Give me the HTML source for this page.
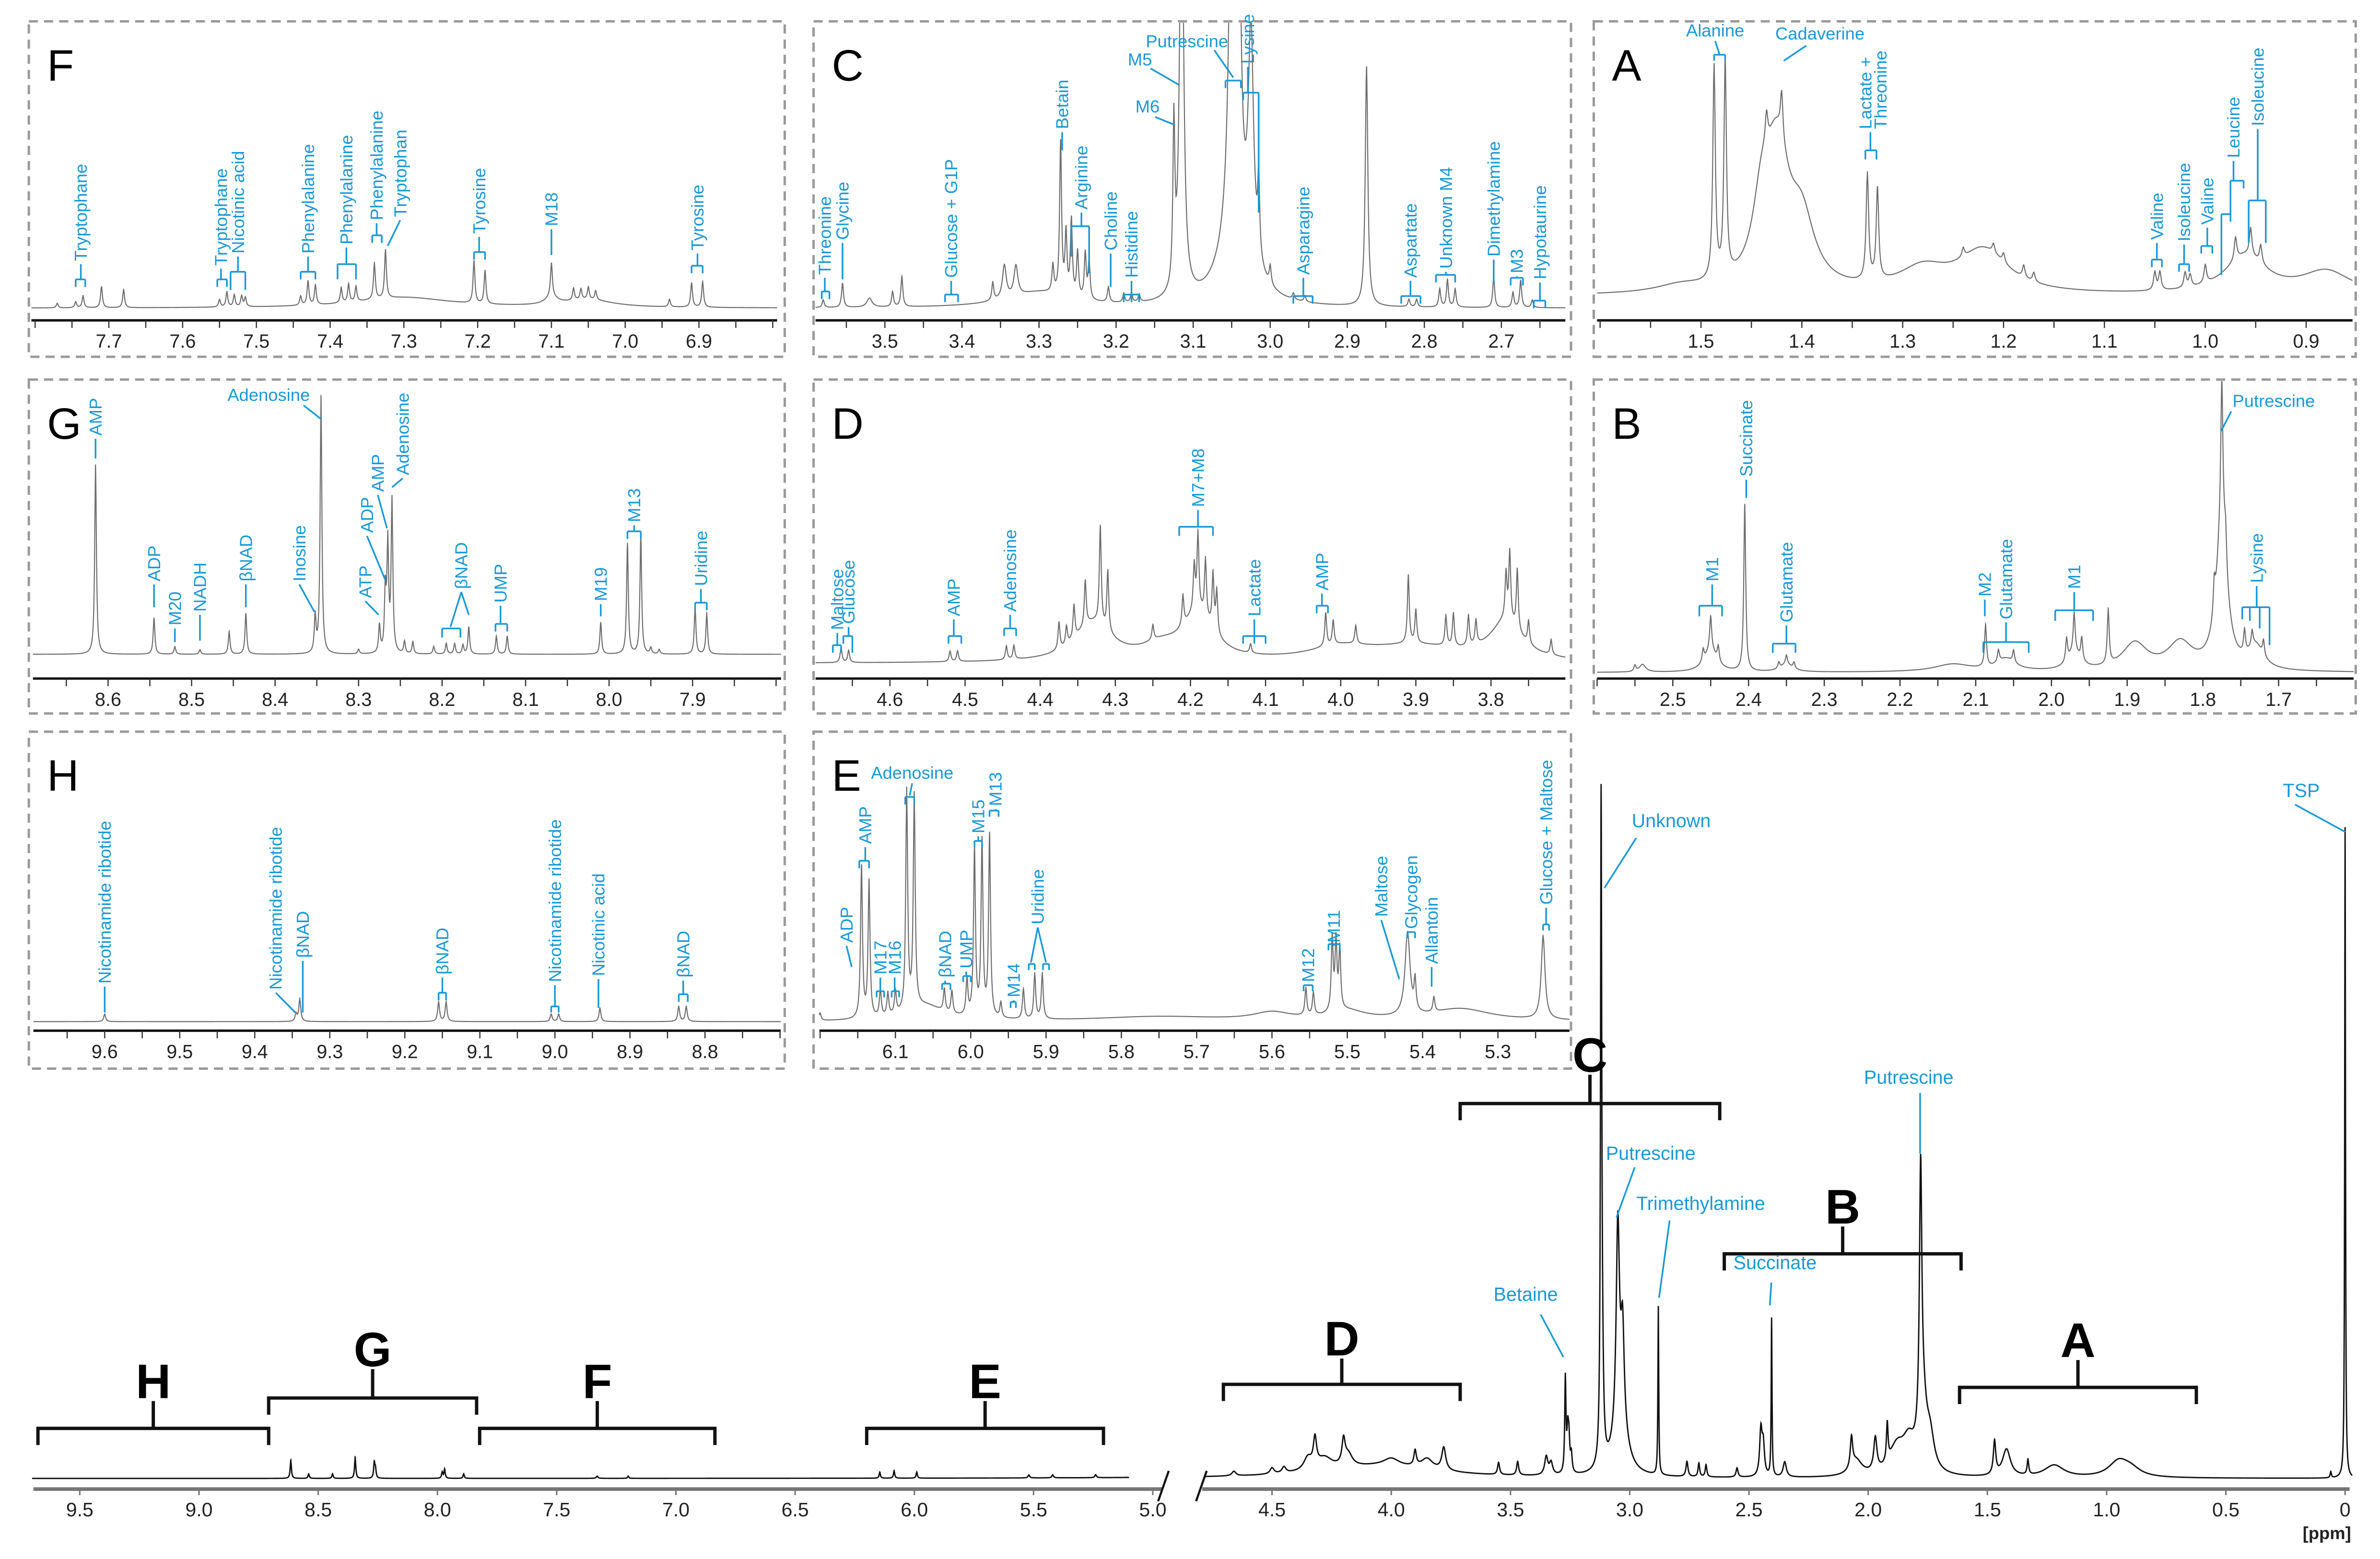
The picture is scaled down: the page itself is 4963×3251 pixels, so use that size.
<!DOCTYPE html>
<html><head><meta charset="utf-8"><title>NMR spectrum with expanded regions</title>
<style>
html,body{margin:0;padding:0;background:#fff;}
svg{display:block;}
text{font-family:"Liberation Sans",Arial,sans-serif;}
</style></head>
<body>
<svg id="fig" xmlns="http://www.w3.org/2000/svg" width="4963" height="3251" viewBox="0 0 1568 1027"></svg>
<script>
// ---------- DATA: peaks [ppm, height(px above baseline), half-width ppm(optional)] ----------
const peaksMain = [
 [0.0,429,0.002],[0.06,4,0.003],
 [3.12,420,0.003],[3.115,50,0.006],
 [3.05,130,0.008],[3.03,60,0.008],[3.04,40,0.03],
 [2.88,111,0.002],
 [3.27,62,0.003],[3.26,25,0.004],[3.255,20,0.004],[3.245,12,0.004],
 [2.405,104,0.002],[2.45,30,0.006],[2.44,20,0.006],[2.35,10,0.008],
 [1.78,170,0.006],[1.77,40,0.02],[1.74,20,0.02],
 [1.92,25,0.004],[1.97,22,0.008],[2.07,20,0.006],[1.88,18,0.04],[1.83,18,0.03],[2.05,10,0.03],
 [1.47,22,0.006],[1.42,18,0.02],[1.33,10,0.004],[1.22,8,0.05],[0.95,10,0.05],[0.9,5,0.05],
 [4.32,18,0.008],[4.2,16,0.008],[4.35,8,0.02],[4.18,8,0.02],[3.9,10,0.006],[3.78,15,0.01],[3.85,7,0.03],[4.0,5,0.04],[4.28,8,0.04],
 [4.05,8,0.3],
 [3.55,8,0.005],[3.47,9,0.005],[3.35,12,0.008],[3.33,8,0.008],
 [2.76,10,0.005],[2.71,9,0.004],[2.68,8,0.004],[2.55,6,0.005],
 [4.5,4,0.01],[4.45,4,0.01],[4.66,3,0.01],
 [8.615,12,0.003],[8.345,14,0.003],[8.265,10,0.003],[8.26,6,0.003],[7.97,6,0.003],[7.98,4,0.003],[8.44,3,0.003],[8.54,3,0.003],[7.89,3,0.003],
 [6.145,4,0.003],[6.085,5,0.003],[5.99,4,0.003],[5.52,2,0.004],[5.42,2,0.004],[5.24,2,0.004],[7.33,1.5,0.004],[7.2,1.5,0.003]
];
const peaksF = [[7.77,3],[7.745,4],[7.735,8],[7.71,14],[7.68,12],[7.55,5],[7.54,10],[7.53,8],[7.52,7],[7.515,6],[7.44,6],[7.43,16],[7.42,13],
 [7.385,10],[7.375,12],[7.365,10],[7.34,24],[7.325,32],[7.205,28],[7.19,22],[7.10,22],[7.07,8],[7.06,7],[7.05,8],[7.04,6],[6.94,5],[6.91,16],[6.895,17],
 [7.3,7,0.08],[7.05,5,0.04],[7.1,5,0.01]];
const peaksG = [[8.615,125],[8.545,24],[8.52,5],[8.49,3],[8.455,15],[8.435,27],[8.352,24],[8.345,170],[8.30,3],[8.275,18],[8.268,40],[8.265,70],[8.26,100],
 [8.245,8],[8.235,8],[8.21,5],[8.195,7],[8.185,7],[8.175,6],[8.168,18],[8.135,12],[8.122,12],[8.01,21],[7.978,73],[7.962,78],[7.897,31],[7.883,27],[7.95,4],[7.94,3]];
const peaksC = [[3.58,5],[3.555,16],[3.52,6,0.004],[3.49,10],[3.478,20],[3.36,12],[3.345,22,0.003],[3.33,20,0.003],[3.282,18],[3.272,100],[3.265,40],
 [3.258,50],[3.25,30],[3.24,30],[3.235,25],[3.21,10],[3.19,6],[3.18,6],[3.17,5],[3.125,105],[3.115,300,0.003],[3.05,250,0.004],[3.04,150,0.003],
 [3.025,150,0.004],[3.015,50],[3.045,60,0.02],[3.0,12],[2.875,158,0.002],[2.78,12],[2.77,18],[2.76,12],[2.71,20],[2.685,10],[2.675,18],[2.66,5],
 [3.3,10,0.05],[2.97,4],[2.955,4],[2.82,5],[2.81,5]];
const peaksA = [[1.425,90,0.015],[1.44,40,0.01],[1.40,40,0.015],[1.22,28,0.03],[1.28,15,0.03],[0.96,25,0.025],[0.88,15,0.03],[1.52,5,0.03],
 [1.487,140],[1.476,140],[1.42,30],[1.435,20],[1.335,70],[1.325,60],[1.05,12],[1.045,12],[1.02,10],[1.015,8],[1.0,12],[0.97,15],[0.955,18],[0.945,12],
 [1.24,6],[1.21,6],[1.2,6],[1.18,8],[1.17,6]];
const peaksD = [[4.33,25,0.03],[4.19,30,0.025],[3.78,25,0.025],[3.9,10,0.08],[4.0,8,0.05],[4.24,8,0.03],
 [4.665,10],[4.655,8],[4.52,7],[4.51,7],[4.445,9],[4.435,9],[4.375,18],[4.365,12],[4.355,22],[4.34,30],[4.32,65],[4.31,40],[4.25,10],
 [4.21,20],[4.195,30],[4.19,50],[4.18,38],[4.17,36],[4.165,28],[4.12,6],[4.02,22],[4.01,16],[3.98,12],[3.91,45],[3.90,22],[3.86,20],[3.85,22],
 [3.83,20],[3.82,16],[3.78,30],[3.775,45],[3.765,40],[3.75,15],[3.72,10]];
const peaksB = [[1.775,100,0.008],[1.89,18,0.02],[1.83,18,0.02],[2.45,15,0.01],[2.06,8,0.015],[1.97,12,0.01],[1.73,15,0.012],[2.13,5,0.03],[2.35,5,0.01],[2.54,5,0.005],
 [2.46,8],[2.45,22],[2.44,10],[2.405,110],[2.36,4],[2.35,6],[2.34,4],[2.087,28],[2.07,8],[2.05,8],[1.98,15],[1.97,25],[1.96,15],[1.925,36],
 [1.785,20],[1.775,90],[1.77,20],[1.745,15],[1.735,10],[1.72,10],[2.55,4]];
const peaksH = [[9.6,5],[9.345,5],[9.34,15],[9.155,13],[9.145,13],[9.005,5],[8.995,5],[8.94,9],[8.835,10],[8.825,10]];
const peaksE = [[6.2,5],[6.145,100],[6.135,90],[6.12,18],[6.11,15],[6.1,15],[6.085,145],[6.075,140],[6.035,15],[6.025,15],[6.005,24],[5.995,110],
 [5.985,115],[5.975,120],[5.96,10],[5.93,20],[5.915,30],[5.905,30],[5.555,18],[5.545,15],[5.52,48],[5.515,45],[5.51,40],[5.42,55,0.004],[5.41,20],
 [5.385,10],[5.24,55,0.003],[5.6,5,0.03],[5.35,8,0.05],[5.75,3,0.1],[5.5,6,0.03],[6.06,10,0.03]];
const mainTickLabels = ['9.5','9.0','8.5','8.0','7.5','7.0','6.5','6.0','5.5','5.0','4.5','4.0','3.5','3.0','2.5','2.0','1.5','1.0','0.5','0'];
const mainTickValues = [9.5,9.0,8.5,8.0,7.5,7.0,6.5,6.0,5.5,5.0,4.5,4.0,3.5,3.0,2.5,2.0,1.5,1.0,0.5,0];

// ---------- annotations (layout) ----------
const annF = [
 {t:'Tryptophane',p:7.738,ty:158,by:170,bp:[7.745,7.732],leg:5},
 {t:'Tryptophane',p:7.548,ty:161,by:170,bp:[7.553,7.54],leg:5},
 {t:'Nicotinic acid',p:7.525,ty:153,by:165,bp:[7.535,7.515],leg:12},
 {t:'Phenylalanine',p:7.43,ty:153,by:165,bp:[7.44,7.42],leg:5},
 {t:'Phenylalanine',p:7.378,ty:147,by:160,bp:[7.39,7.365],leg:10},
 {t:'Phenylalanine',p:7.337,ty:131,by:141,bp:[7.343,7.33],leg:5},
 {t:'Tryptophan',p:7.305,ty:129,d:[7.322,148]},
 {t:'Tyrosine',p:7.198,ty:140,by:152,bp:[7.205,7.19],leg:5},
 {t:'M18',p:7.10,ty:135,by:154},
 {t:'Tyrosine',p:6.902,ty:151,by:161,bp:[6.91,6.895],leg:5}
];
const annG = [
 {t:'AMP',p:8.615,ty:37,by:52},
 {t:'ADP',p:8.545,ty:133,by:150},
 {t:'M20',p:8.52,ty:162,by:173},
 {t:'NADH',p:8.49,ty:153,by:172},
 {t:'βNAD',p:8.435,ty:133,by:150},
 {t:'Inosine',p:8.371,ty:133,d:[8.353,153]},
 {t:'Adenosine',hx:177,hy:14,ls:[200,17],d:[8.345,26]},
 {t:'ATP',p:8.292,ty:144,d:[8.276,155]},
 {t:'ADP',p:8.29,ty:101,d:[8.268,132]},
 {t:'AMP',p:8.277,ty:74,d:[8.266,98]},
 {t:'Adenosine',p:8.247,ty:63,d:[8.26,71]},
 {t:'βNAD',p:8.177,ty:138,ds:[[8.19,163],[8.168,155]],by:164,bp:[8.2,8.178],leg:6,nol:true},
 {t:'UMP',p:8.13,ty:147,by:161,bp:[8.136,8.122],leg:5},
 {t:'M19',p:8.01,ty:146,by:156},
 {t:'M13',p:7.97,ty:94,by:100,bp:[7.978,7.962],leg:5},
 {t:'Uridine',p:7.89,ty:136,by:147,bp:[7.897,7.883],leg:5}
];
const annC = [
 {t:'Threonine',p:3.578,ty:167,by:178,bp:[3.582,3.572],leg:5},
 {t:'Glycine',p:3.555,ty:144,by:170},
 {t:'Glucose + G1P',p:3.414,ty:169,by:180,bp:[3.422,3.405],leg:5},
 {t:'Betain',p:3.27,ty:71,by:85},
 {t:'Arginine',p:3.245,ty:124,by:135,bp:[3.258,3.235],leg:[20,31]},
 {t:'Choline',p:3.207,ty:151,by:175},
 {t:'Histidine',p:3.18,ty:169,by:180,bp:[3.19,3.18,3.17],leg:5},
 {t:'M5',hx:751,hy:29,ls:[758,31],d:[3.118,42]},
 {t:'M6',hx:756,hy:60,ls:[761,63],d:[3.125,68]},
 {t:'Putrescine',hx:782,hy:17,ls:[800,19],d:[3.048,37]},
 {t:'',p:3.048,nol:true,by:39,bp:[3.058,3.038],leg:5},
 {t:'Lysine',p:3.029,ty:28,by:47,bp:[3.035,3.015],leg:[5,79]},
 {t:'Asparagine',p:2.957,ty:167,by:181,bp:[2.97,2.945],leg:5},
 {t:'Aspartate',p:2.818,ty:169,by:181,bp:[2.83,2.805],leg:5},
 {t:'Unknown M4',p:2.772,ty:163,by:167,bp:[2.785,2.76],leg:5},
 {t:'Dimethylamine',p:2.71,ty:155,by:172},
 {t:'M3',p:2.68,ty:166,by:169,bp:[2.688,2.672],leg:5},
 {t:'Hypotaurine',p:2.65,ty:170,by:184,bp:[2.658,2.643],leg:5}
];
const annD = [
 {t:'Maltose',p:4.67,ty:165,by:175,bp:[4.676,4.665],leg:5},
 {t:'Glucose',p:4.655,ty:161,by:169,bp:[4.662,4.65],leg:[5,11]},
 {t:'AMP',p:4.515,ty:156,by:169,bp:[4.522,4.505],leg:5},
 {t:'Adenosine',p:4.44,ty:153,by:164,bp:[4.448,4.432],leg:5},
 {t:'M7+M8',p:4.19,ty:84,by:97,bp:[4.215,4.17],leg:6},
 {t:'Lactate',p:4.115,ty:156,by:169,bp:[4.13,4.115,4.1],leg:5},
 {t:'AMP',p:4.025,ty:139,by:149,bp:[4.032,4.017],leg:5}
];
const annA = [
 {t:'Alanine',hx:1130,hy:10,ls:[1130,13],d:[1.4815,22]},
 {t:'',p:1.4815,nol:true,by:22,bp:[1.487,1.476],leg:4},
 {t:'Cadaverine',hx:1199,hy:12,ls:[1190,16],d:[1.418,26]},
 {t:'Lactate +',p:1.337,ty:71,nol:true},
 {t:'Threonine',p:1.322,ty:71,nol:true},
 {t:'',p:1.332,ty:71,by:85,bp:[1.337,1.326],leg:6},
 {t:'Valine',p:1.048,ty:144,by:157,bp:[1.053,1.043],leg:5},
 {t:'Isoleucine',p:1.021,ty:145,by:160,bp:[1.026,1.016],leg:5},
 {t:'Valine',p:0.998,ty:134,by:148,bp:[1.004,0.993],leg:5},
 {t:'Leucine',p:0.972,ty:90,by:105,bp:[0.975,0.962],leg:[22,5]},
 {t:'',p:0.98,nol:true,by:127,bp:[0.984,0.975],leg:[40,5]},
 {t:'Isoleucine',p:0.948,ty:69,by:118,bp:[0.957,0.94],leg:[28,28]}
];
const annB = [
 {t:'M1',p:2.448,ty:133,by:149,bp:[2.465,2.435],leg:7},
 {t:'Succinate',p:2.403,ty:64,by:78},
 {t:'Glutamate',p:2.35,ty:160,by:174,bp:[2.368,2.338],leg:6},
 {t:'M2',p:2.088,ty:143,by:156},
 {t:'Glutamate',p:2.06,ty:158,by:173,bp:[2.09,2.03],leg:7},
 {t:'M1',p:1.97,ty:138,by:152,bp:[1.995,1.945],leg:7},
 {t:'Putrescine',hx:1498,hy:18,ls:[1470,21],d:[1.776,34]},
 {t:'Lysine',p:1.729,ty:134,by:150,bp:[1.748,1.738,1.725,1.712],leg:[8,9,14,25]}
];
const annH = [
 {t:'Nicotinamide ribotide',p:9.6,ty:166,by:185},
 {t:'Nicotinamide ribotide',p:9.372,ty:170,d:[9.346,185]},
 {t:'βNAD',p:9.336,ty:149,by:185},
 {t:'βNAD',p:9.15,ty:160,by:172,bp:[9.155,9.145],leg:5},
 {t:'Nicotinamide ribotide',p:9.0,ty:165,by:181,bp:[9.005,8.995],leg:4},
 {t:'Nicotinic acid',p:8.942,ty:161,by:182},
 {t:'βNAD',p:8.829,ty:162,by:173,bp:[8.835,8.823],leg:5}
];
const annE = [
 {t:'ADP',p:6.165,ty:139,d:[6.158,155]},
 {t:'AMP',p:6.14,ty:74,by:85,bp:[6.148,6.135],leg:5},
 {t:'M17',p:6.12,ty:160,by:171,bp:[6.125,6.115],leg:4},
 {t:'M16',p:6.101,ty:160,by:171,bp:[6.105,6.095],leg:4},
 {t:'Adenosine',hx:601,hy:31,ls:[601,34],d:[6.081,42]},
 {t:'',p:6.081,nol:true,by:43,bp:[6.087,6.075],leg:5},
 {t:'βNAD',p:6.034,ty:162,by:166,bp:[6.038,6.027],leg:4},
 {t:'UMP',p:6.006,ty:156,by:161,bp:[6.01,6.0],leg:4},
 {t:'M15',p:5.99,ty:67,by:72,bp:[5.995,5.985],leg:4},
 {t:'M13',p:5.967,ty:49,by:52,bp:[5.975,5.963],leg:4},
 {t:'M14',p:5.943,ty:175,by:178,bp:[5.947,5.94],leg:4},
 {t:'Uridine',p:5.911,ty:127,ds:[[5.92,152],[5.9,152]]},
 {t:'',p:5.92,nol:true,by:153,bp:[5.923,5.915],leg:4},
 {t:'',p:5.9,nol:true,by:153,bp:[5.904,5.896],leg:4},
 {t:'M12',p:5.552,ty:165,by:167,bp:[5.558,5.546],leg:4},
 {t:'M11',p:5.518,ty:139,by:140,bp:[5.525,5.51],leg:4},
 {t:'Maltose',p:5.455,ty:122,d:[5.431,163]},
 {t:'Glycogen',p:5.415,ty:130,by:132,bp:[5.42,5.41],leg:4},
 {t:'Allantoin',p:5.388,ty:153,by:168},
 {t:'Glucose + Maltose',p:5.236,ty:114,by:127,bp:[5.24,5.232],leg:4}
];

const panels = [
 {id:'F',x0:19,y0:14,x1:517,y1:235,ax0:20.7,ax1:512,pL:7.805,pR:6.794,base:189,peaks:peaksF,ann:annF,dw:0.0015},
 {id:'C',x0:536,y0:14,x1:1035,y1:235,ax0:537.3,ax1:1031.3,pL:3.590,pR:2.617,base:189,peaks:peaksC,ann:annC,dw:0.0015},
 {id:'A',x0:1050,y0:14,x1:1552,y1:235,ax0:1052.2,ax1:1549.9,pL:1.603,pR:0.854,base:181,peaks:peaksA,ann:annA,dw:0.0015},
 {id:'G',x0:19,y0:250,x1:517,y1:470,ax0:21.7,ax1:514.6,pL:8.69,pR:7.794,base:181,peaks:peaksG,ann:annG,dw:0.0012},
 {id:'D',x0:536,y0:250,x1:1035,y1:470,ax0:537.3,ax1:1031.3,pL:4.699,pR:3.701,base:187,peaks:peaksD,ann:annD,dw:0.0015},
 {id:'B',x0:1050,y0:250,x1:1552,y1:470,ax0:1052.2,ax1:1550.6,pL:2.6,pR:1.601,base:193,peaks:peaksB,ann:annB,dw:0.0015},
 {id:'H',x0:19,y0:482,x1:517,y1:704,ax0:22,ax1:514.4,pL:9.695,pR:8.699,base:191,peaks:peaksH,ann:annH,dw:0.0015},
 {id:'E',x0:536,y0:482,x1:1035,y1:704,ax0:539.8,ax1:1034,pL:6.201,pR:5.205,base:191,peaks:peaksE,ann:annE,dw:0.0015}
];

const NS='http://www.w3.org/2000/svg';
const svg=document.getElementById('fig');
const BLUE='#1a98d5';
function mk(tag,attrs,parent){const e=document.createElementNS(NS,tag);for(const k in attrs)e.setAttribute(k,attrs[k]);(parent||svg).appendChild(e);return e;}
function sig(peaks,ppm,dw){let s=0;for(const pk of peaks){const w=pk[2]||dw;const d=ppm-pk[0];s+=pk[1]*w*w/(d*d+w*w);}return s;}
function specD(peaks,dw,pA,pB,X,base,n){
  const pts=[];for(let i=0;i<=n;i++)pts.push(pA+(pB-pA)*i/n);
  const lo=Math.min(pA,pB),hi=Math.max(pA,pB);
  for(const pk of peaks){if(pk[0]>lo&&pk[0]<hi)pts.push(pk[0]);}
  pts.sort((a,b)=>b-a);
  let d='';pts.forEach((p,i)=>{d+=(i?'L':'M')+X(p).toFixed(2)+','+(base-sig(peaks,p,dw)).toFixed(2);});
  return d;
}

// ---------- panels ----------
panels.forEach(P=>{
  const g=mk('g',{});
  
  
  const X=p=>P.ax0+(P.pL-p)/(P.pL-P.pR)*(P.ax1-P.ax0);
  const axY=P.y0+197;
  const box=mk('rect',{x:P.x0,y:P.y0,width:P.x1-P.x0,height:P.y1-P.y0,fill:'none',stroke:'#9a9a9a','stroke-width':1.6,'stroke-dasharray':'6 4'},g);
  
  
  const cp=mk('clipPath',{id:'clip'+P.id},g);
  mk('rect',{x:P.x0,y:P.y0+1,width:P.x1-P.x0,height:axY-P.y0-2},cp);
  const sp=mk('path',{d:specD(P.peaks,P.dw,P.pL,P.pR,X,P.y0+P.base,1400),fill:'none',stroke:'#6e6e6e','stroke-width':0.7,'clip-path':'url(#clip'+P.id+')'},g);
  
  
  const ax=mk('line',{x1:P.ax0,y1:axY,x2:P.ax1,y2:axY,stroke:'#111','stroke-width':1.6},g);
  
  
  const start=Math.ceil(P.pR*20-1e-6),end=Math.floor(P.pL*20+1e-6);
  for(let k=start;k<=end;k++){
    const p=k/20,x=X(p);
    const tk=mk('line',{x1:x,y1:axY,x2:x,y2:axY+5,stroke:'#333','stroke-width':0.8},g);
    
    
    if(k%2===0 && x>P.ax0+15 && x<P.ax1-15){
      const tl=mk('text',{x:x,y:axY+18,'font-size':12.5,'text-anchor':'middle',fill:'#222'},g);
      tl.textContent=(k/20).toFixed(1);
      
      
    }
  }
  const lt=mk('text',{x:P.x0+12,y:P.y0+39,'font-size':29,fill:'#000'},g);
  lt.textContent=P.id;
  
  
  // annotations
  P.ann.forEach(a=>{
    const ag=mk('g',{stroke:BLUE,'stroke-width':1.1,fill:'none'},g);
    
    
    if(a.hx!==undefined){
      const t=mk('text',{x:a.hx,y:P.y0+a.hy,'font-size':11.5,'text-anchor':'middle',fill:BLUE,stroke:'none'},ag);
      t.textContent=a.t;
      
      
      mk('line',{x1:a.ls[0],y1:P.y0+a.ls[1],x2:X(a.d[0]),y2:P.y0+a.d[1]},ag);
      return;
    }
    const tx=X(a.p);
    if(a.t){
      const t=mk('text',{x:0,y:0,'font-size':11.5,fill:BLUE,stroke:'none',transform:'translate('+(tx+4).toFixed(2)+','+(P.y0+a.ty)+') rotate(-90)'},ag);
      t.textContent=a.t;
      
      
    }
    if(a.d){mk('line',{x1:tx,y1:P.y0+a.ty+2,x2:X(a.d[0]),y2:P.y0+a.d[1]},ag);}
    if(a.ds){a.ds.forEach(dd=>mk('line',{x1:tx,y1:P.y0+a.ty+2,x2:X(dd[0]),y2:P.y0+dd[1]},ag));}
    if(a.by!==undefined){
      if(!a.nol && !a.d && !a.ds && a.ty!==undefined) mk('line',{x1:tx,y1:P.y0+a.ty+2,x2:tx,y2:P.y0+a.by},ag);
      if(a.bp){
        const xs=a.bp.map(X);
        mk('line',{x1:Math.min(...xs),y1:P.y0+a.by,x2:Math.max(...xs),y2:P.y0+a.by},ag);
        xs.forEach((x,i)=>{const L=Array.isArray(a.leg)?a.leg[i]:(a.leg||5);mk('line',{x1:x,y1:P.y0+a.by,x2:x,y2:P.y0+a.by+L},ag);});
      }
    }
  });
});

// ---------- main spectrum ----------
const MX=p=>1545-p*157.1;
const BASE=974;
const mg=mk('g',{});


const sL=mk('path',{d:specD(peaksMain,0.003,9.7,5.1,MX,BASE,2400),fill:'none',stroke:'#111','stroke-width':0.9},mg);


const sR=mk('path',{d:specD(peaksMain,0.003,4.78,-0.03,MX,BASE,3600),fill:'none',stroke:'#111','stroke-width':0.9},mg);


const a1=mk('line',{x1:22,y1:981,x2:766,y2:981,stroke:'#777','stroke-width':2.4},mg);


const a2=mk('line',{x1:792,y1:981,x2:1548,y2:981,stroke:'#777','stroke-width':2.4},mg);


const b1=mk('line',{x1:763,y1:989,x2:770,y2:969,stroke:'#111','stroke-width':1.4},mg);


const b2=mk('line',{x1:788,y1:989,x2:795,y2:969,stroke:'#111','stroke-width':1.4},mg);


mainTickValues.forEach((v,i)=>{
  const x=MX(v);
  const tk=mk('line',{x1:x,y1:981,x2:x,y2:985,stroke:'#777','stroke-width':1},mg);
  
  
  const tl=mk('text',{x:x,y:999,'font-size':13,'text-anchor':'middle',fill:'#222'},mg);
  tl.textContent=mainTickLabels[i];
  
  
});
const ppm=mk('text',{x:1533,y:1014,'font-size':11.5,'text-anchor':'middle',fill:'#222','font-weight':'bold'},mg);
ppm.textContent='[ppm]';



const brackets=[['H',25,177,941,923],['G',177,314,921,902],['F',316,471,941,923],['E',571,727,941,923],
 ['D',806,962,912,895],['C',962,1133,727,708],['B',1136,1292,826,808],['A',1291,1447,914,896]];
brackets.forEach(b=>{
  const [L,x1,x2,yb,ys]=b;const mid=(x1+x2)/2;
  const bg=mk('g',{},mg);
  
  
  mk('path',{d:`M${x1},${yb+11}V${yb}H${x2}V${yb+11}M${mid},${yb}V${ys}`,fill:'none',stroke:'#111','stroke-width':2.2},bg);
  const t=mk('text',{x:mid,y:ys-2,'font-size':32,'font-weight':'bold','text-anchor':'middle',fill:'#000'},bg);
  t.textContent=L;
  
  
});
const mainLabels=[['Unknown',1075,545,1057,585,1078,552],['TSP',1504,525,1512,530,1545,548],['Putrescine',1228,714,1265,720,1265,760],
 ['Putrescine',1058,764,1077,769,1065,802],['Trimethylamine',1078,797,1100,804,1093,855],['Succinate',1142,836,1167,845,1166,860],['Betaine',984,857,1015,866,1030,894]];
mainLabels.forEach(m=>{
  const lg=mk('g',{},mg);
  
  
  const t=mk('text',{x:m[1],y:m[2],'font-size':12.5,fill:BLUE},lg);
  t.textContent=m[0];
  
  
  mk('line',{x1:m[3],y1:m[4],x2:m[5],y2:m[6],stroke:BLUE,'stroke-width':1.1},lg);
});
</script>
</body></html>
